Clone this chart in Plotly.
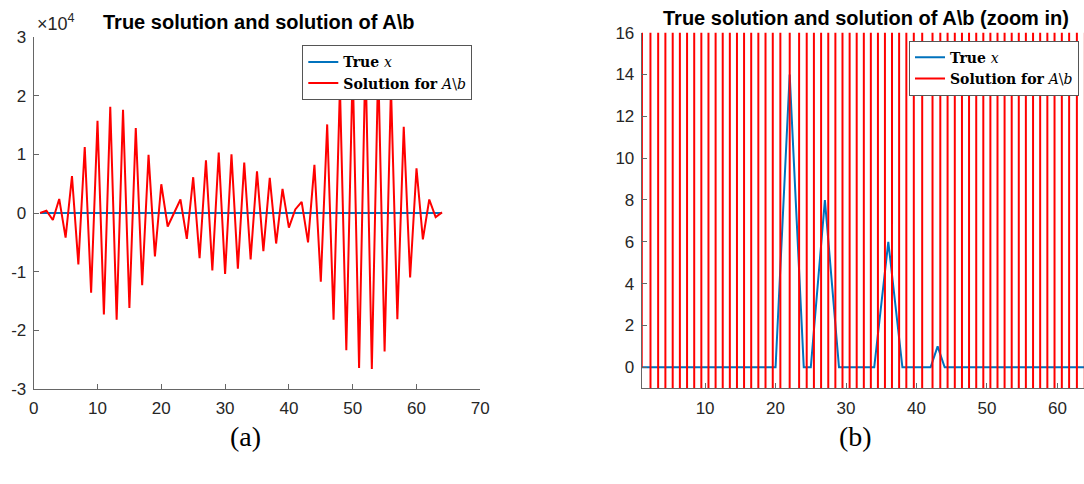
import plotly.graph_objects as go

# index 1..64
idx = list(range(1, 65))

# true x
true_x = [0]*64
true_x[20] = 7;  true_x[21] = 14; true_x[22] = 7
true_x[25] = 4;  true_x[26] = 8;  true_x[27] = 4
true_x[34] = 3;  true_x[35] = 6;  true_x[36] = 3
true_x[42] = 1

# solution of A\b
sol = [0, 400, -1200, 2400, -4200, 6300, -8750, 11250, -13600, 15700,
       -17300, 18100, -18200, 17600, -16200, 14500, -12300, 9900, -7400, 4900,
       -2300, 0, 2300, -4400, 6100, -7700, 9000, -9800, 10300, -10400,
       10000, -9500, 8600, -7900, 7100, -6500, 6000, -5200, 4100, -2500,
       600, 1900, -5000, 8200, -11700, 15100, -18200, 21500, -23400, 25000,
       -26400, 26800, -26600, 25300, -23600, 21500, -18100, 14700, -11000, 7600,
       -4500, 2300, -700, 100]

left_yticks = [-30000, -20000, -10000, 0, 10000, 20000, 30000]
left_yticktext = ["-3", "-2", "-1", "0", "1", "2", "3"]
left_xticks = [0, 10, 20, 30, 40, 50, 60, 70]
right_xticks = [10, 20, 30, 40, 50, 60]
right_yticks = [0, 2, 4, 6, 8, 10, 12, 14, 16]

W, H = 1084, 484
BLUE = "#0072BD"
RED = "#FF0000"
AX = "#666666"
TXT = "#262626"
SANS = "Liberation Sans"
SERIF = "DejaVu Serif"

fig = go.Figure()
for ax in ["", "2"]:
    show = ax == ""
    fig.add_trace(go.Scatter(x=idx, y=true_x, mode="lines", name="<b>True </b><i>x</i>",
                             line=dict(color=BLUE, width=2), xaxis="x"+ax, yaxis="y"+ax,
                             legend="legend" if show else "legend2"))
    fig.add_trace(go.Scatter(x=idx, y=sol, mode="lines", name="<b>Solution for </b><i>A</i>\\<i>b</i>",
                             line=dict(color=RED, width=2), xaxis="x"+ax, yaxis="y"+ax,
                             legend="legend" if show else "legend2"))

axis_common = dict(showgrid=False, zeroline=False, showline=True, linecolor=AX, linewidth=1,
                   ticks="inside", ticklen=5, tickcolor=AX, mirror=False, automargin=False,
                   tickfont=dict(family=SANS, size=17, color=TXT))

legend_common = dict(xanchor="right", yanchor="top", bgcolor="white",
                     bordercolor="#555555", borderwidth=1,
                     font=dict(family=SERIF, size=14, color="black"),
                     itemwidth=30, tracegroupgap=0)

fig.update_layout(
    width=W, height=H, margin=dict(l=0, r=0, t=0, b=0, autoexpand=False),
    plot_bgcolor="white", paper_bgcolor="white", showlegend=True,
    xaxis=dict(domain=[33.7/W, 480.3/W], range=[0, 70], tickvals=left_xticks, anchor="y",
               ticklabelstandoff=4, **axis_common),
    yaxis=dict(domain=[1-389/H, 1-37/H], range=[-30000, 30000], tickvals=left_yticks,
               ticktext=left_yticktext, anchor="x", ticklabelstandoff=3, **axis_common),
    xaxis2=dict(domain=[641.7/W, 1.0], range=[1, 1+(W-641.7)/7.046], tickvals=right_xticks,
                anchor="y2", ticklabelstandoff=4, **axis_common),
    yaxis2=dict(domain=[1-388.2/H, 1-32.7/H], range=[-1, 16], tickvals=right_yticks,
                anchor="x2", ticklabelstandoff=3, **axis_common),
    legend=dict(x=472.3/W, y=1-45.3/H, **legend_common),
    legend2=dict(x=1079/W, y=1-40.7/H, **legend_common),
    annotations=[
        dict(text="<b>True solution and solution of A\\b</b>", x=258/W, y=1-22/H, xref="paper", yref="paper",
             showarrow=False, font=dict(family=SANS, size=20, color="black"), xanchor="center", yanchor="middle"),
        dict(text="<b>True solution and solution of A\\b (zoom in)</b>", x=866/W, y=1-18/H, xref="paper",
             yref="paper", showarrow=False, font=dict(family=SANS, size=20, color="black"),
             xanchor="center", yanchor="middle"),
        dict(text="×10<sup>4</sup>", x=35/W, y=1-36/H, xref="paper", yref="paper", showarrow=False,
             font=dict(family=SANS, size=18, color=TXT), xanchor="left", yanchor="bottom"),
        dict(text="(a)", x=245/W, y=1-436/H, xref="paper", yref="paper", showarrow=False,
             font=dict(family="Liberation Serif", size=28, color="black"), xanchor="center", yanchor="middle"),
        dict(text="(b)", x=855/W, y=1-436/H, xref="paper", yref="paper", showarrow=False,
             font=dict(family="Liberation Serif", size=28, color="black"), xanchor="center", yanchor="middle"),
    ],
)

fig.write_html("out.html", config={"displayModeBar": False},
               post_script="document.body.style.margin='0';document.body.style.overflow='hidden';")
